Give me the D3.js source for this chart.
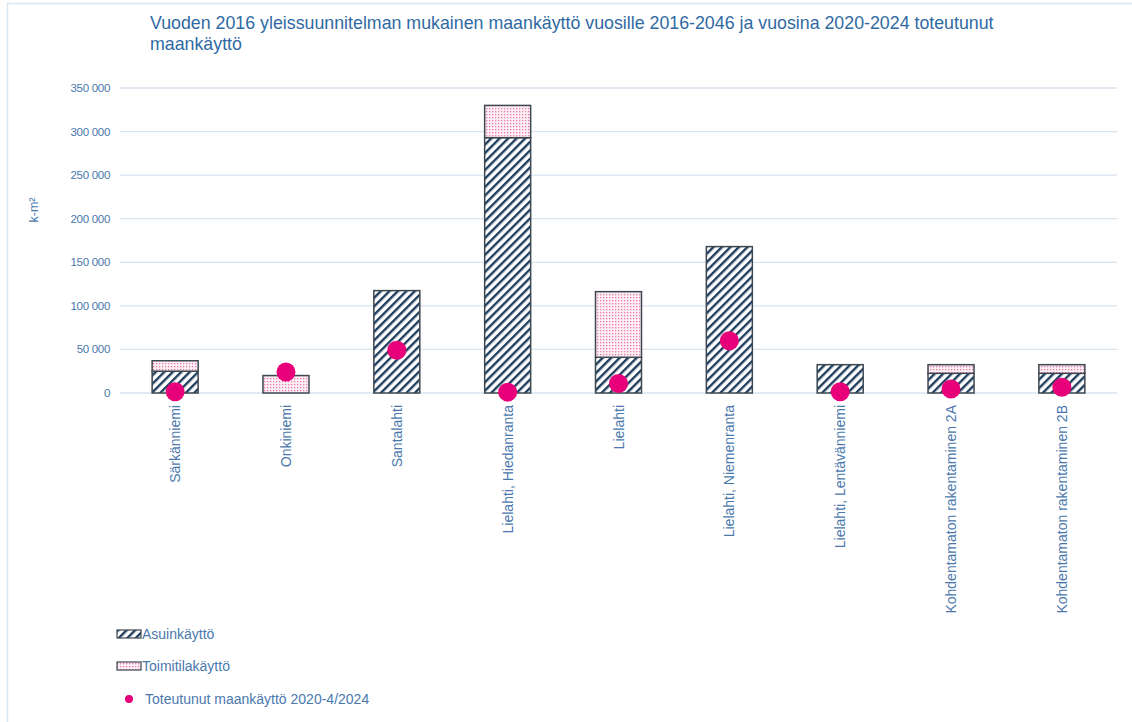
<!DOCTYPE html>
<html><head><meta charset="utf-8">
<script src="https://cdn.jsdelivr.net/npm/d3@7"></script>
<style>body{margin:0;background:#fff;font-family:"Liberation Sans",Arial,sans-serif;}</style>
</head><body><svg id="c" width="1132" height="722"></svg>
<script>
const categories = ["Särkänniemi","Onkiniemi","Santalahti","Lielahti, Hiedanranta","Lielahti","Lielahti, Niemenranta","Lielahti, Lentävänniemi","Kohdentamaton rakentaminen 2A","Kohdentamaton rakentaminen 2B"];
const asuin = [25000, 0, 117500, 293000, 41000, 168000, 32500, 22600, 22600];
const toimitila = [12000, 20000, 0, 37000, 75300, 0, 0, 9900, 9900];
const toteutunut = [1500, 24000, 49000, 1000, 11000, 60000, 1500, 4600, 6500];
const yTicks = [0,50000,100000,150000,200000,250000,300000,350000];
const titleLines = ["Vuoden 2016 yleissuunnitelman mukainen maankäyttö vuosille 2016-2046 ja vuosina 2020-2024 toteutunut","maankäyttö"];
const legendLabels = ["Asuinkäyttö","Toimitilakäyttö","Toteutunut maankäyttö 2020-4/2024"];

const textCol = "#4a78ad", titleCol = "#2f6aa3", gridCol = "#d9e5f1", dotCol = "#e8007a";
const svg = d3.select("#c");
const defs = svg.append("defs");
const hp = defs.append("pattern").attr("id","hatch").attr("patternUnits","userSpaceOnUse").attr("width",6).attr("height",6).attr("patternTransform","rotate(45)");
hp.append("rect").attr("width",6).attr("height",6).attr("fill","#fff");
hp.append("rect").attr("x",0).attr("width",2.4).attr("height",6).attr("fill","#1f3d5c");
const dp = defs.append("pattern").attr("id","dots").attr("patternUnits","userSpaceOnUse").attr("width",3).attr("height",3);
dp.append("rect").attr("width",3).attr("height",3).attr("fill","#fdf0f5");
dp.append("rect").attr("width",1.3).attr("height",1.3).attr("fill","#ea7aaa");

// frame
svg.append("line").attr("x1",7).attr("x2",1132).attr("y1",3.5).attr("y2",3.5).attr("stroke",gridCol).attr("stroke-width",1.5);
svg.append("line").attr("x1",7.5).attr("x2",7.5).attr("y1",3).attr("y2",722).attr("stroke",gridCol).attr("stroke-width",1.5);

const x = d3.scaleBand().domain(categories).range([120,1117]).paddingInner(0.585).paddingOuter(0.29);
const y = d3.scaleLinear().domain([0,350000]).range([393,88]);

// grid
svg.append("g").selectAll("line").data(yTicks).join("line")
  .attr("x1",120).attr("x2",1117).attr("y1",d=>y(d)).attr("y2",d=>y(d))
  .attr("stroke",gridCol).attr("stroke-width",1.3);
// y labels
const fmt = d => d3.format(",")(d).replace(/,/g," ");
svg.append("g").selectAll("text").data(yTicks).join("text")
  .attr("x",110).attr("y",d=>y(d)+4).attr("text-anchor","end")
  .attr("font-size",11.5).attr("fill",textCol).attr("letter-spacing","-0.3").text(fmt);
svg.append("text").attr("transform","translate(38,210) rotate(-90)").attr("text-anchor","middle")
  .attr("font-size",12.5).attr("fill",textCol).text("k-m²");

// title
svg.append("g").selectAll("text").data(titleLines).join("text")
  .attr("x",150).attr("y",(d,i)=>29+i*21).attr("font-size",17.8).attr("fill",titleCol).text(d=>d);

// bars
const bars = svg.append("g");
categories.forEach((c,i)=>{
  if (asuin[i]>0) bars.append("rect").attr("x",x(c)).attr("width",x.bandwidth())
    .attr("y",y(asuin[i])).attr("height",y(0)-y(asuin[i]))
    .attr("fill","url(#hatch)").attr("stroke","#3d4750").attr("stroke-width",1.5);
  if (toimitila[i]>0) bars.append("rect").attr("x",x(c)).attr("width",x.bandwidth())
    .attr("y",y(asuin[i]+toimitila[i])).attr("height",y(asuin[i])-y(asuin[i]+toimitila[i]))
    .attr("fill","url(#dots)").attr("stroke","#3d4750").attr("stroke-width",1.5);
});
// dots
svg.append("g").selectAll("circle").data(categories).join("circle")
  .attr("cx",d=>x(d)+x.bandwidth()/2).attr("cy",(d,i)=>y(toteutunut[i])).attr("r",9.5).attr("fill",dotCol);

// x labels
svg.append("g").selectAll("text").data(categories).join("text")
  .attr("transform",d=>`translate(${x(d)+x.bandwidth()/2+5},405) rotate(-90)`)
  .attr("text-anchor","end").attr("font-size",14).attr("fill",textCol).text(d=>d);

// legend
const lg = svg.append("g");
lg.append("rect").attr("x",117).attr("y",630).attr("width",24).attr("height",8).attr("fill","url(#hatch)").attr("stroke","#3d4750").attr("stroke-width",1.2);
lg.append("text").attr("x",142).attr("y",639).attr("font-size",14).attr("fill",textCol).text(legendLabels[0]);
lg.append("rect").attr("x",117).attr("y",662).attr("width",24).attr("height",8).attr("fill","url(#dots)").attr("stroke","#3d4750").attr("stroke-width",1.2);
lg.append("text").attr("x",142).attr("y",671).attr("font-size",14).attr("fill",textCol).text(legendLabels[1]);
lg.append("circle").attr("cx",129).attr("cy",699).attr("r",4).attr("fill",dotCol);
lg.append("text").attr("x",145).attr("y",704).attr("font-size",14).attr("fill",textCol).text(legendLabels[2]);
</script></body></html>
